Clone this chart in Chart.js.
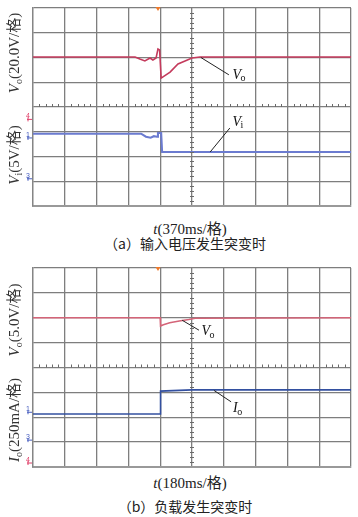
<!DOCTYPE html>
<html><head><meta charset="utf-8">
<script src="https://cdn.jsdelivr.net/npm/chart.js@4/dist/chart.umd.min.js"></script>
<style>
html,body{margin:0;padding:0;background:#fff;width:358px;height:517px;overflow:hidden;}
.pane{position:absolute;left:0;width:358px;height:210px;}
.txt{position:absolute;transform:translate(-50%,-50%);white-space:nowrap;font-family:"Liberation Serif","Noto Sans CJK SC",serif;color:#222;line-height:1;}
.yt{position:absolute;transform:translate(-50%,-50%) rotate(-90deg);white-space:nowrap;font-family:"Liberation Serif","Noto Sans CJK SC",serif;color:#333;font-size:15px;line-height:1;}
.yt sub,.txt sub{font-size:10px;vertical-align:-3px;}
.cap{font-family:"Noto Sans CJK SC","Liberation Serif",sans-serif;font-size:14px;color:#222;font-weight:400;}
</style></head>
<body>
<div class="pane" style="top:0"><canvas id="ca" width="358" height="210"></canvas></div>
<div class="pane" style="top:260px"><canvas id="cb" width="358" height="210"></canvas></div>

<div class="yt" style="left:15px;top:53px"><i>V</i><sub>o</sub>(20.0V/格)</div>
<div class="yt" style="left:15px;top:155px"><i>V</i><sub>i</sub>(5V/格)</div>
<div class="txt" style="left:190px;top:229px;font-size:15px"><i>t</i>(370ms/格)</div>
<div class="txt cap" style="left:185px;top:243px">（a）输入电压发生突变时</div>

<div class="yt" style="left:15px;top:320px"><i>V</i><sub>o</sub>(5.0V/格)</div>
<div class="yt" style="left:15px;top:420px"><i>I</i><sub>o</sub>(250mA/格)</div>
<div class="txt" style="left:190px;top:483px;font-size:15px"><i>t</i>(180ms/格)</div>
<div class="txt cap" style="left:185px;top:506px">（b）负载发生突变时</div>

<script>
// ---- Data (y in screen divisions, x in ms) ----
// Panel (a): input voltage step, 370 ms/div
const timeVoA = [0, 1188, 1243, 1302, 1362, 1395, 1432, 1454, 1473, 1491, 1595, 1687, 1769, 1850, 1943, 3700];
const voA     = [6.02, 6.02, 5.94, 5.86, 5.98, 5.90, 5.98, 6.34, 6.30, 5.17, 5.41, 5.74, 5.86, 5.98, 6.02, 6.02];
const timeViA = [0, 1258, 1314, 1369, 1406, 1443, 1454, 1491, 1502, 3700];
const viA     = [2.92, 2.92, 2.80, 2.76, 2.82, 2.80, 2.95, 2.95, 2.18, 2.18];
// Panel (b): load step, 180 ms/div
const timeVoB = [0, 720, 722, 738, 774, 828, 882, 918, 1800];
const voB     = [6.00, 6.00, 5.67, 5.72, 5.80, 5.87, 5.93, 5.98, 6.00];
const timeIoB = [0, 719, 722, 900, 1800];
const ioB     = [2.13, 2.13, 3.05, 3.10, 3.10];

const xSpanA = 3700, xSpanB = 1800;

function pts(xs, ys){ return xs.map((x,i)=>({x:x, y:ys[i]})); }

const scopePlugin = {
  id:'scope',
  afterDatasetsDraw(chart, args, opts){
    const {ctx, chartArea:a, scales:{x,y}} = chart;
    const cx = x.getPixelForValue((x.min+x.max)/2), cy = y.getPixelForValue(4);
    ctx.save();
    ctx.strokeStyle='#6a6a6a'; ctx.lineWidth=1;
    const xs=(x.max-x.min)/50;
    for(let i=1;i<50;i++){ if(i%5===0) continue;
      const px=Math.round(x.getPixelForValue(x.min+i*xs))+0.5;
      ctx.beginPath(); ctx.moveTo(px,cy-3); ctx.lineTo(px,cy); ctx.stroke(); }
    for(let j=1;j<40;j++){ if(j%5===0) continue;
      const py=Math.round(y.getPixelForValue(j*0.2))+0.5;
      ctx.beginPath(); ctx.moveTo(cx-2,py); ctx.lineTo(cx+2,py); ctx.stroke(); }
    const tx=x.getPixelForValue(opts.trig);
    ctx.fillStyle='#f07a2a';
    ctx.beginPath(); ctx.moveTo(tx-2.5,a.top-1); ctx.lineTo(tx+2.5,a.top-1); ctx.lineTo(tx,a.top+3); ctx.closePath(); ctx.fill();
    ctx.font='7px "Liberation Sans"'; ctx.textAlign='right'; ctx.textBaseline='middle';
    opts.marks.forEach(m=>{
      const py=y.getPixelForValue(m.y);
      ctx.fillStyle=m.c; ctx.strokeStyle=m.c;
      ctx.fillText(m.t, a.left-3, py-3);
      ctx.beginPath(); ctx.moveTo(a.left-6,py); ctx.lineTo(a.left-1,py); ctx.stroke();
      ctx.beginPath(); ctx.moveTo(a.left-5,py-2); ctx.lineTo(a.left-5,py+2); ctx.stroke();
    });
    opts.notes.forEach(n=>{
      ctx.strokeStyle='#222'; ctx.lineWidth=1;
      ctx.beginPath();
      ctx.moveTo(x.getPixelForValue(n.x1), y.getPixelForValue(n.y1));
      ctx.lineTo(x.getPixelForValue(n.x2), y.getPixelForValue(n.y2)); ctx.stroke();
      const lx=x.getPixelForValue(n.lx), ly=y.getPixelForValue(n.ly);
      ctx.fillStyle='#111'; ctx.textAlign='left'; ctx.textBaseline='middle';
      ctx.font='italic 14px "Liberation Serif"';
      ctx.fillText(n.t, lx, ly);
      const w=ctx.measureText(n.t).width;
      ctx.font='10px "Liberation Serif"';
      ctx.fillText(n.s, lx+w-0.5, ly+4);
    });
    ctx.restore();
  }
};

function makeChart(id, span, sets, padTop, padBottom, opts){
  const step = span/10;
  return new Chart(document.getElementById(id), {
    type:'line',
    data:{datasets:sets},
    options:{
      responsive:false, animation:false,
      layout:{padding:{left:33,right:7,top:padTop,bottom:padBottom}},
      plugins:{legend:{display:false}, tooltip:{enabled:false}, scope:opts},
      elements:{point:{radius:0}, line:{tension:0}},
      scales:{
        x:{type:'linear', min:0, max:span,
           ticks:{display:false, stepSize:step},
           grid:{color:'#7e7e7e', lineWidth:1.3, drawTicks:false},
           border:{color:'#999', width:2},
           afterFit(s){ s.height=0; }},
        y:{type:'linear', min:0, max:8,
           ticks:{display:false, stepSize:1},
           grid:{color:'#7e7e7e', lineWidth:1.3, drawTicks:false},
           border:{color:'#858585', width:1.3},
           afterFit(s){ s.width=0; }}
      }
    },
    plugins:[scopePlugin]
  });
}

makeChart('ca', xSpanA, [
  {data:pts(timeVoA, voA), borderColor:'#c43a5c', borderWidth:1.6},
  {data:pts(timeViA, viA), borderColor:'#6b7bd0', borderWidth:2.1}
], 8, 4, {
  trig: 3.93*xSpanA/10,
  marks:[{t:'4',y:3.5,c:'#e0406a'},{t:'1',y:2.75,c:'#4a60c0'},{t:'3',y:1.1,c:'#4a60c0'}],
  notes:[
    {t:'V',s:'o',x1:5.28*xSpanA/10,y1:6.0,x2:6.16*xSpanA/10,y2:5.3,lx:6.27*xSpanA/10,ly:5.3},
    {t:'V',s:'i',x1:5.57*xSpanA/10,y1:2.18,x2:6.19*xSpanA/10,y2:3.15,lx:6.27*xSpanA/10,ly:3.4}
  ]
});

makeChart('cb', xSpanB, [
  {data:pts(timeVoB, voB), borderColor:'#d46478', borderWidth:1.6},
  {data:pts(timeIoB, ioB), borderColor:'#3350a0', borderWidth:1.6}
], 8, 3, {
  trig: 3.93*xSpanB/10,
  marks:[{t:'1',y:2.2,c:'#4a60c0'},{t:'3',y:1.08,c:'#4a60c0'},{t:'4',y:0.16,c:'#e0406a'}],
  notes:[
    {t:'V',s:'o',x1:4.69*xSpanB/10,y1:5.9,x2:5.22*xSpanB/10,y2:5.5,lx:5.3*xSpanB/10,ly:5.45},
    {t:'I',s:'o',x1:5.69*xSpanB/10,y1:3.08,x2:6.23*xSpanB/10,y2:2.62,lx:6.29*xSpanB/10,ly:2.35}
  ]
});
</script>
</body></html>
